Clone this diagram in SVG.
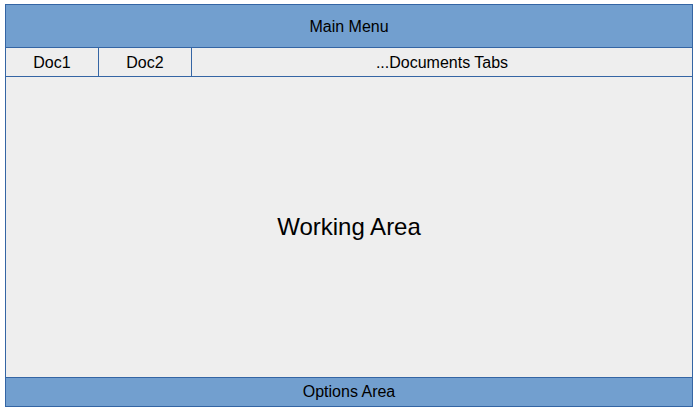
<svg xmlns="http://www.w3.org/2000/svg" width="700" height="412" viewBox="0 0 700 412">
<style>
.blue{fill:#729fcf;stroke:#3465a4;stroke-width:1}
.gray{fill:#eeeeee;stroke:#3465a4;stroke-width:1}
text{font-family:"Liberation Sans",Arial,sans-serif;fill:#000;text-anchor:middle;dominant-baseline:central}
.s{font-size:16px}
.l{font-size:24px}
</style>
<rect width="700" height="412" fill="#ffffff"/>
<g id="working-area"><rect class="gray" x="5.5" y="76.5" width="687" height="301"/><text class="l" x="349" y="226">Working Area</text></g>
<g id="main-menu"><rect class="blue" x="5.5" y="4.5" width="687" height="43"/><text class="s" x="349" y="26">Main Menu</text></g>
<g id="doc1"><rect class="gray" x="5.5" y="47.5" width="93" height="29"/><text class="s" x="52" y="62">Doc1</text></g>
<g id="doc2"><rect class="gray" x="98.5" y="47.5" width="93" height="29"/><text class="s" x="145" y="62">Doc2</text></g>
<g id="doc-tabs"><rect class="gray" x="191.5" y="47.5" width="501" height="29"/><text class="s" x="442" y="62">...Documents Tabs</text></g>
<g id="options-area"><rect class="blue" x="5.5" y="377.5" width="687" height="29"/><text class="s" x="349" y="391">Options Area</text></g>
<g id="connectors"></g>
</svg>
